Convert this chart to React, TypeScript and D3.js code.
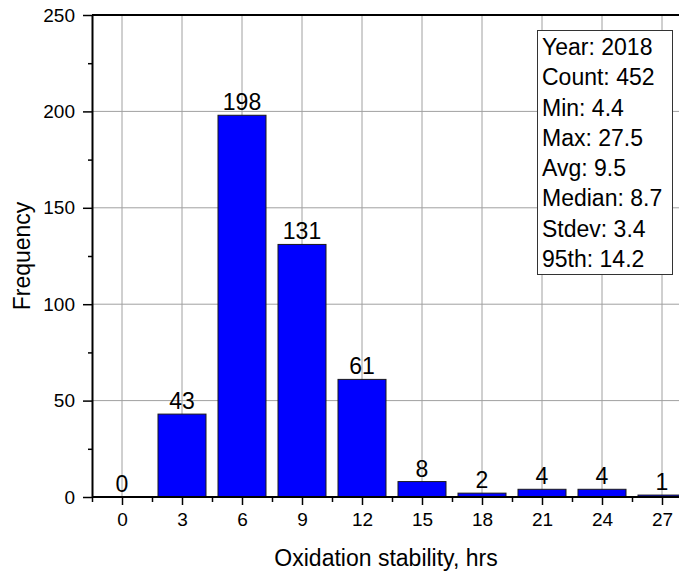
import React, { useEffect, useRef } from 'react';
import * as d3 from 'd3';

// bin centres (hrs) and counts
const binCenters = [0, 3, 6, 9, 12, 15, 18, 21, 24, 27];
const counts = [0, 43, 198, 131, 61, 8, 2, 4, 4, 1];
const yMajorTicks = [0, 50, 100, 150, 200, 250];
const yMinorTicks = [25, 75, 125, 175, 225];
const xMinorTicks = [-1.5, 1.5, 4.5, 7.5, 10.5, 13.5, 16.5, 19.5, 22.5, 25.5, 28.5];
const statsLines = [
  'Year: 2018',
  'Count: 452',
  'Min: 4.4',
  'Max: 27.5',
  'Avg: 9.5',
  'Median: 8.7',
  'Stdev: 3.4',
  '95th: 14.2',
];

const FONT = "'Liberation Sans', Arial, sans-serif";

const App = () => {
  const svgRef = useRef<SVGSVGElement | null>(null);

  useEffect(() => {
    if (svgRef.current) drawChart();
  }, []);

  const drawChart = () => {
    const width = 679;
    const height = 575;
    const svg = d3.select(svgRef.current);
    svg.selectAll('*').remove();

    const left = 92;
    const top = 15;
    const bottom = 497;

    // scales
    const x = d3.scaleLinear().domain([-1.5, 28.5]).range([left, left + 600]);
    const y = d3.scaleLinear().domain([0, 250]).range([bottom, top]);

    svg.append('rect').attr('width', width).attr('height', height).attr('fill', '#fff');

    // grid
    const grid = svg.append('g');
    grid.selectAll('.vgrid')
      .data(binCenters)
      .enter()
      .append('line')
      .attr('x1', d => x(d))
      .attr('x2', d => x(d))
      .attr('y1', top)
      .attr('y2', bottom)
      .style('stroke', '#a0a0a0')
      .style('stroke-width', 1);
    grid.selectAll('.hgrid')
      .data(yMajorTicks.filter(d => d > 0 && d < 250))
      .enter()
      .append('line')
      .attr('x1', left)
      .attr('x2', width)
      .attr('y1', d => y(d))
      .attr('y2', d => y(d))
      .style('stroke', '#a0a0a0')
      .style('stroke-width', 1);

    // bars
    const barHalf = 1.2;
    svg.selectAll('.bar')
      .data(binCenters.map((c, i) => ({ c, n: counts[i] })))
      .enter()
      .append('rect')
      .attr('x', d => x(d.c - barHalf))
      .attr('y', d => y(d.n))
      .attr('width', x(barHalf) - x(-barHalf))
      .attr('height', d => y(0) - y(d.n))
      .attr('fill', '#0000ff')
      .style('stroke', d => (d.n > 0 ? '#1a1a1a' : 'none'))
      .style('stroke-width', 1);

    // value labels
    svg.selectAll('.label')
      .data(binCenters.map((c, i) => ({ c, n: counts[i] })))
      .enter()
      .append('text')
      .attr('x', d => x(d.c))
      .attr('y', d => y(d.n) - 5)
      .attr('text-anchor', 'middle')
      .style('font-family', FONT)
      .style('font-size', '23px')
      .style('fill', '#000')
      .text(d => d.n);

    // top border
    svg.append('line')
      .attr('x1', left)
      .attr('x2', width)
      .attr('y1', top)
      .attr('y2', top)
      .style('stroke', '#000')
      .style('stroke-width', 2);

    // y axis
    const yAxis = svg.append('g')
      .attr('transform', `translate(${left},0)`)
      .call(d3.axisLeft(y).tickValues(yMajorTicks).tickSize(9).tickSizeOuter(0).tickPadding(8));
    svg.append('g')
      .attr('transform', `translate(${left},0)`)
      .call(d3.axisLeft(y).tickValues(yMinorTicks).tickSize(4).tickFormat(() => ''))
      .call(g => g.select('.domain').remove());

    // x axis
    const xAxis = svg.append('g')
      .attr('transform', `translate(0,${bottom})`)
      .call(d3.axisBottom(x).tickValues(binCenters).tickSize(8).tickSizeOuter(0).tickPadding(8).tickFormat(d3.format('d')));
    svg.append('g')
      .attr('transform', `translate(0,${bottom})`)
      .call(d3.axisBottom(x).tickValues(xMinorTicks).tickSize(5).tickFormat(() => ''))
      .call(g => g.select('.domain').remove());

    svg.selectAll('.tick line').style('stroke', '#000').style('stroke-width', 1.5);
    [yAxis, xAxis].forEach(a => {
      a.select('.domain').style('stroke', '#000').style('stroke-width', 2);
      a.selectAll('text')
        .style('font-family', FONT)
        .style('font-size', '19px')
        .style('fill', '#000');
    });
    xAxis.select('.domain').attr('d', `M${left},0H${width}`);

    // stats box
    const box = svg.append('g');
    box.append('rect')
      .attr('x', 537.5)
      .attr('y', 30.5)
      .attr('width', 135)
      .attr('height', 244)
      .attr('fill', '#fff')
      .style('stroke', '#333')
      .style('stroke-width', 1);
    box.selectAll('text')
      .data(statsLines)
      .enter()
      .append('text')
      .attr('x', 542)
      .attr('y', (d, i) => 55 + i * 30.25)
      .style('font-family', FONT)
      .style('font-size', '23px')
      .style('fill', '#000')
      .text(d => d);

    // axis titles
    svg.append('text')
      .attr('x', 386)
      .attr('y', 566)
      .attr('text-anchor', 'middle')
      .style('font-family', FONT)
      .style('font-size', '23px')
      .style('fill', '#000')
      .text('Oxidation stability, hrs');

    svg.append('text')
      .attr('transform', `translate(30,${(top + bottom) / 2}) rotate(-90)`)
      .attr('text-anchor', 'middle')
      .style('font-family', FONT)
      .style('font-size', '23px')
      .style('fill', '#000')
      .text('Frequency');
  };

  return (
    <svg
      ref={svgRef}
      width={679}
      height={575}
      style={{ position: 'absolute', left: 0, top: 0, display: 'block' }}
    />
  );
};

export default App;
